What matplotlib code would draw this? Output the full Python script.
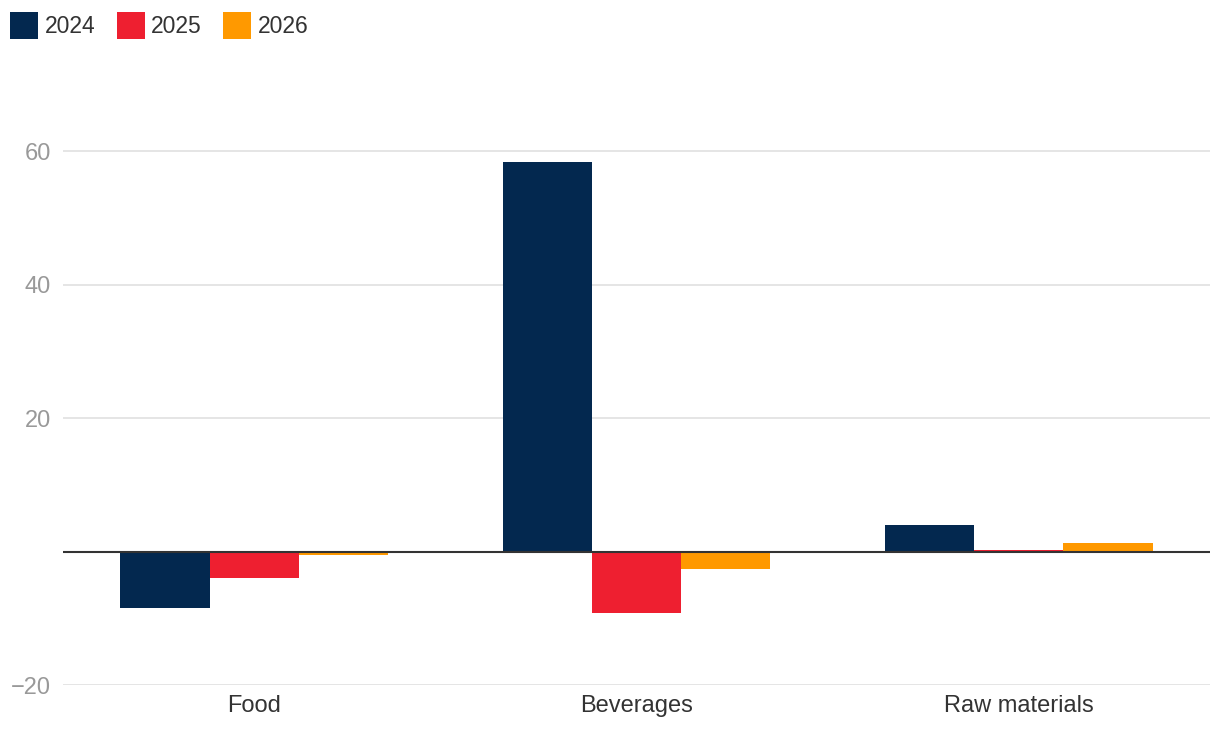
import matplotlib
matplotlib.use("Agg")
import matplotlib.pyplot as plt
import numpy as np

categories = ["Food", "Beverages", "Raw materials"]
series_names = ["2024", "2025", "2026"]
values_2024 = [-8.5, 58.3, 3.9]
values_2025 = [-4.0, -9.2, 0.25]
values_2026 = [-0.45, -2.65, 1.2]
yticks = [-20, 20, 40, 60]
ytick_labels = ["\u221220", "20", "40", "60"]

colors = ["#03284F", "#EE1F30", "#FF9900"]

plt.rcParams['font.family'] = ['Liberation Sans', 'DejaVu Sans']

fig = plt.figure(figsize=(12.2, 7.36), dpi=100)
W, H = 1220, 736
ax = fig.add_axes([63 / W, 1 - 685 / H, (1210 - 63) / W, (685 - 84.25) / H])

x = np.arange(len(categories))
bw = 0.7 / 3
for i, (vals, name) in enumerate(zip([values_2024, values_2025, values_2026], series_names)):
    ax.bar(x + (i - 1) * bw, vals, width=bw, color=colors[i], label=name, zorder=3, linewidth=0)

ax.set_xlim(-0.5, len(categories) - 0.5)
ax.set_ylim(-20, 70)
ax.set_yticks(yticks)
ax.set_yticklabels(ytick_labels)
ax.set_xticks(x)
ax.set_xticklabels(categories)
ax.grid(axis='y', color='#e0e0e0', linewidth=1.2, zorder=0)
ax.axhline(0, color='#333333', linewidth=1.5, zorder=4)
for s in ax.spines.values():
    s.set_visible(False)
ax.tick_params(axis='y', length=0, labelsize=17, labelcolor='#999999', pad=8.6)
ax.tick_params(axis='x', length=0, labelsize=17, labelcolor='#333333', pad=7.5)

leg = fig.legend(loc='upper left', bbox_to_anchor=(10 / W, 1 - 12 / H), ncol=3, frameon=False,
                 fontsize=16.5, handlelength=1.22, handleheight=1.45, handletextpad=0.3,
                 columnspacing=0.92, borderpad=0, borderaxespad=0)
for t in leg.get_texts():
    t.set_color('#333333')

fig.savefig("out.png", dpi=100)
